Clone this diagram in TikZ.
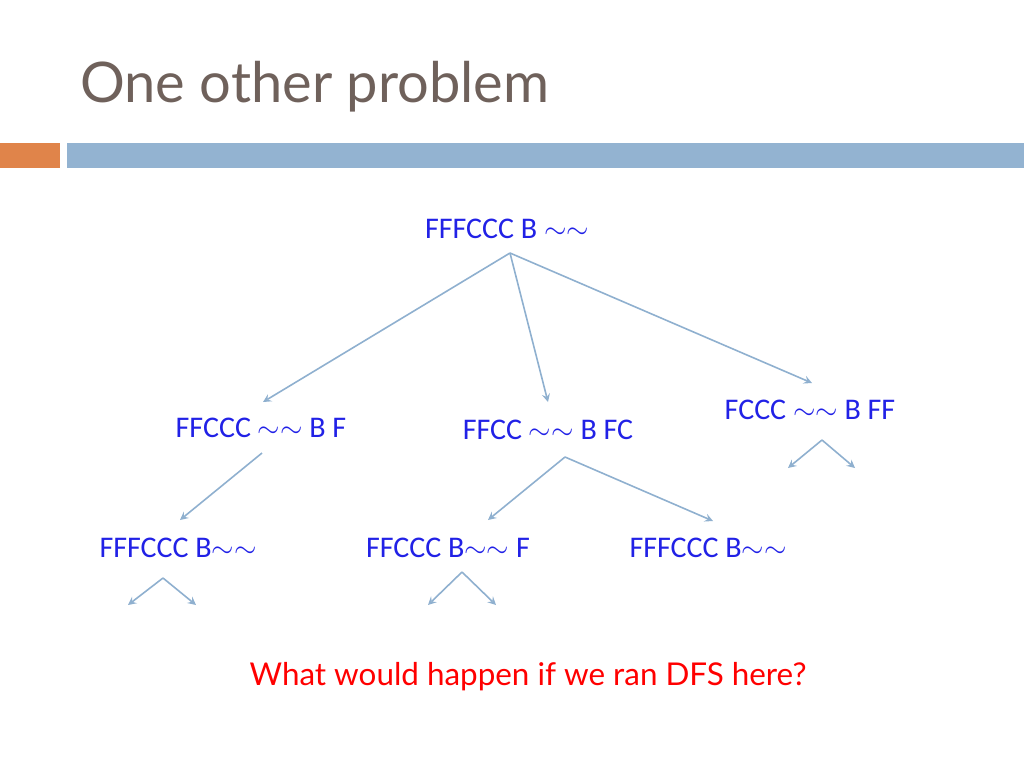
\documentclass[tikz,border=0pt]{standalone}
\usepackage{fontspec}
\setmainfont{Carlito}
\newfontfamily\titlefont{Lato}
\usetikzlibrary{positioning}
\definecolor{titlegray}{HTML}{6F615B}
\definecolor{barorange}{HTML}{E0844A}
\definecolor{barblue}{HTML}{93B3D1}
\definecolor{edgeblue}{HTML}{8FB0CF}
\definecolor{statblue}{HTML}{2121E6}
\newcommand{\tl}{\ensuremath{\sim}}

\begin{document}
\begin{tikzpicture}[x=0.5pt, y=-0.5pt, >=stealth,
  every state/.style={text=statblue, font=\fontsize{15}{17}\selectfont, inner sep=0pt},
  every edge/.style={draw=edgeblue, ->, line width=0.8pt}]

\useasboundingbox (0,0) rectangle (1024,768);

\node [anchor=base west, text=titlegray, font=\titlefont\fontsize{28}{32}\selectfont, inner sep=0pt] (title) at (80,102) {One other problem};
\fill [barorange] (0,143) rectangle (60,168);
\fill [barblue] (67,143) rectangle (1024,168);

\foreach \n/\x/\y/\l in {root/507/229/{FFFCCC B \tl\tl},
  ffccc/261/428/{FFCCC \tl\tl\ B F},
  ffcc/548/430/{FFCC \tl\tl\ B FC},
  fccc/810/410/{FCCC \tl\tl\ B FF},
  left/178/548/{FFFCCC B\tl\tl},
  mid/448/548/{FFCCC B\tl\tl\ F},
  right/708/548/{FFFCCC B\tl\tl}}
  \node [every state] (\n) at (\x,\y) {\l};

\foreach \n/\x/\y in {r0/510/253, a0/262/453, b0/565/457, c0/822/440, c1/788/468, c2/855/468,
  d0/163/578, d1/128/605, d2/196/605, e0/462/572, e1/428/605, e2/496/605,
  ra/263/402, rb/548/402, rc/812/383, ad/180/520, be/488/520, bf/713/521}
  \coordinate (\n) at (\x,\y);

\path (r0) edge (ra) (r0) edge (rb) (r0) edge (rc)
      (a0) edge (ad) (b0) edge (be) (b0) edge (bf)
      (c0) edge (c1) (c0) edge (c2)
      (d0) edge (d1) (d0) edge (d2)
      (e0) edge (e1) (e0) edge (e2);

\node [text=red, font=\titlefont\fontsize{15.7}{18}\selectfont] (question) at (528,677) {What would happen if we ran DFS here?};

\end{tikzpicture}
\end{document}
